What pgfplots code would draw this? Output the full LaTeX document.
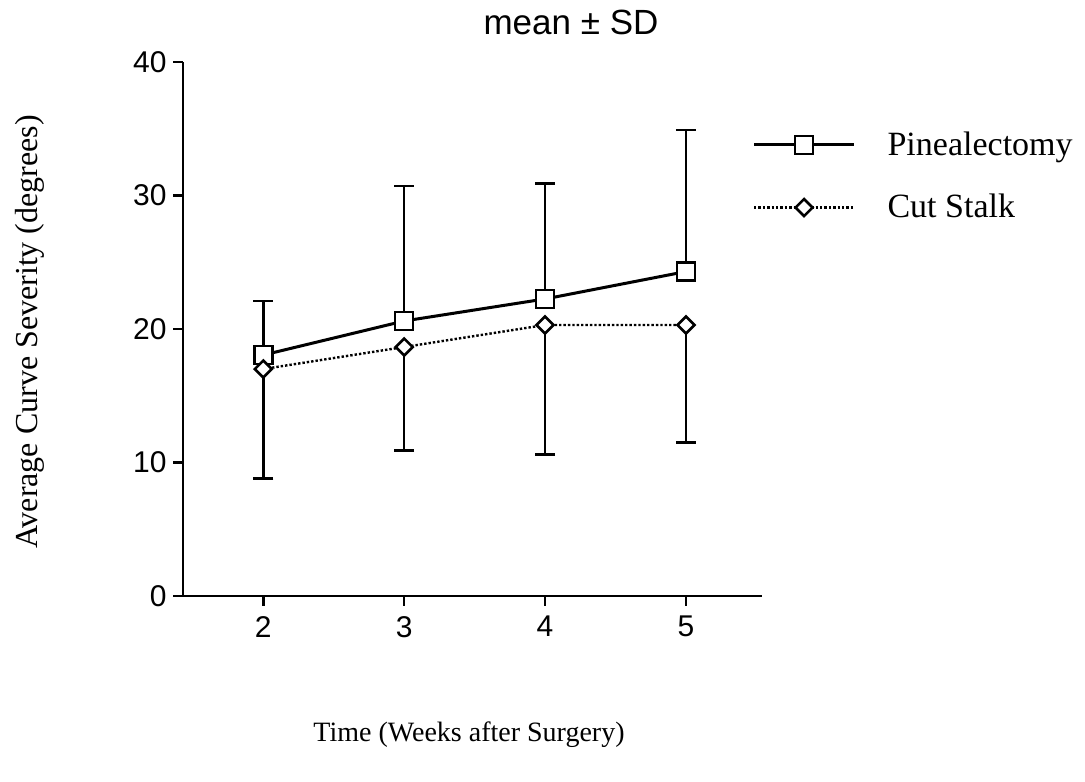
\documentclass[border=0pt]{standalone}
\usepackage{pgfplots}
\pgfplotsset{compat=1.18}
\usepackage{pgfplotstable}
\usepackage{fontspec}
\setmainfont{Liberation Serif}
\setsansfont{Liberation Sans}
\pgfplotstableread{
x y e
2 18.05 4.05
3 20.6 10.1
4 22.25 8.65
5 24.3 10.6
}\pine
\pgfplotstableread{
x y e
2 17.0 8.2
3 18.65 7.75
4 20.3 9.7
5 20.3 8.8
}\cut
\begin{document}
\begin{tikzpicture}
\useasboundingbox (0,0) rectangle (542.5pt,390.5pt);
\begin{axis}[
  scale only axis,
  at={(91.5pt,92.5pt)}, anchor=south west,
  width=289.5pt, height=267pt,
  xmin=1.43, xmax=5.54, ymin=0, ymax=40,
  axis x line=bottom, axis y line=left,
  axis line style={-, line width=1.3pt},
  xtick={2,3,4,5}, ytick={0,10,20,30,40},
  tick align=outside, major tick length=5pt,
  tick style={black, line width=1.3pt},
  /pgf/number format/assume math mode=true,
  ticklabel style={font=\sffamily\fontsize{15}{18}\selectfont},
  yticklabel style={inner sep=3pt},
  xticklabel style={yshift=-1.5pt},
  clip=false,
  legend style={draw=none, fill=none, at={(axis description cs:0.983,0.786)}, anchor=west,
    font=\fontsize{17}{20}\selectfont, row sep=14pt, inner xsep=0pt,
    /tikz/every even column/.append style={column sep=0pt}},
  legend cell align=left,
  legend image code/.code={\draw[mark repeat=2,mark phase=2,#1] plot coordinates {(0pt,0pt) (25pt,0pt) (50pt,0pt)};},
]
\addplot[draw=none, mark=none, forget plot,
  error bars/.cd, y dir=plus, y explicit,
  error bar style={draw=black, solid, line width=1.3pt},
  error mark options={draw=black, solid, rotate=90, mark size=5pt, line width=1.3pt}]
  table[x=x, y=y, y error=e] {\pine};
\addplot[draw=none, mark=none, forget plot,
  error bars/.cd, y dir=minus, y explicit,
  error bar style={draw=black, solid, line width=1.3pt},
  error mark options={draw=black, solid, rotate=90, mark size=5pt, line width=1.3pt}]
  table[x=x, y=y, y error=e] {\cut};
\addplot[black, line width=1.5pt, mark=square*, mark size=4.5pt,
  mark options={fill=white, solid, line width=1.3pt}]
  table[x=x, y=y] {\pine};
\addlegendentry{\hspace{14pt}Pinealectomy}
\addplot[black, densely dotted, line width=1.2pt, mark=square*, mark size=3pt,
  mark options={fill=white, solid, rotate=45, line width=1.3pt}]
  table[x=x, y=y] {\cut};
\addlegendentry{\hspace{14pt}Cut Stalk}
\end{axis}
\node[font=\sffamily\fontsize{17.5}{21}\selectfont] at (285.5pt,379.5pt) {mean ± SD};
\node[rotate=90, font=\fontsize{16}{19}\selectfont] at (15pt,224.5pt) {Average Curve Severity (degrees)};
\node[font=\fontsize{14}{17}\selectfont] at (234.5pt,23pt) {Time (Weeks after Surgery)};
\end{tikzpicture}
\end{document}
